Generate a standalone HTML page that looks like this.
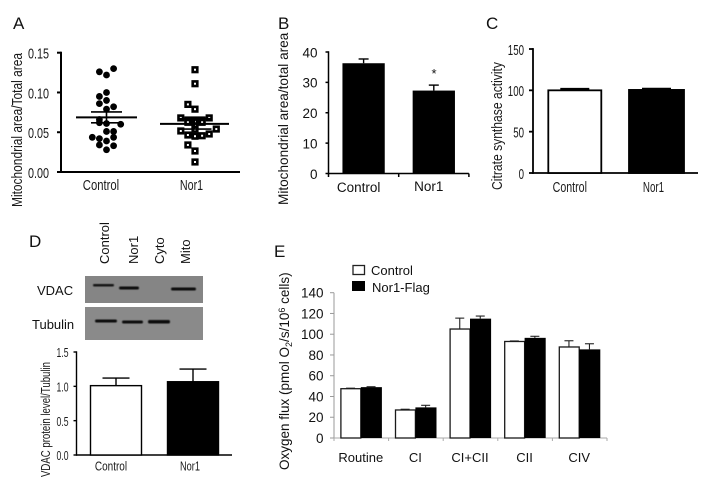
<!DOCTYPE html>
<html>
<head>
<meta charset="utf-8">
<title>Mitochondrial figure panels</title>
<style>
html,body{margin:0;padding:0;background:#fff;}
svg{display:block;}
text{font-family:"Liberation Sans",sans-serif;fill:#111;}
.n{font-family:"Liberation Sans Narrow","Liberation Sans",sans-serif;fill:#1a1a1a;}
</style>
</head>
<body>
<svg id="fig" xmlns="http://www.w3.org/2000/svg" width="705" height="485" viewBox="0 0 705 485">
  <defs><filter id="soft" x="-20%" y="-100%" width="140%" height="300%"><feGaussianBlur stdDeviation="0.6"/></filter></defs>
  <rect width="705" height="485" fill="#fff"/>
  <text x="13" y="29" font-size="17">A</text>
  <text x="278" y="29" font-size="17">B</text>
  <text x="486" y="29" font-size="17">C</text>
  <text x="29" y="247" font-size="17">D</text>
  <text x="274" y="257" font-size="17">E</text>

  <text class="n" transform="translate(22,207) rotate(-90)" font-size="15" textLength="154" lengthAdjust="spacingAndGlyphs">Mitochondrial area/Total area</text>
  <text transform="translate(288,205) rotate(-90)" font-size="13.6">Mitochondrial area/total area</text>
  <text x="434" y="78" font-size="13" text-anchor="middle">*</text>
  <text class="n" transform="translate(502,190) rotate(-90)" font-size="15" textLength="128" lengthAdjust="spacingAndGlyphs">Citrate synthase activity</text>
  <text class="n" transform="translate(50,477) rotate(-90)" font-size="13" textLength="115" lengthAdjust="spacingAndGlyphs">VDAC protein level/Tubulin</text>
  <text transform="translate(289,470) rotate(-90)" font-size="13.5">Oxygen flux (pmol O<tspan font-size="9" dy="3">2</tspan><tspan dy="-3">/s/10</tspan><tspan font-size="9" dy="-4">6</tspan><tspan dy="4"> cells)</tspan></text>

  <g>
    <text transform="translate(109,264) rotate(-90)" font-size="13">Control</text>
    <text transform="translate(138,264) rotate(-90)" font-size="13">Nor1</text>
    <text transform="translate(164,264) rotate(-90)" font-size="13">Cyto</text>
    <text transform="translate(190,264) rotate(-90)" font-size="13">Mito</text>
    <text x="37" y="295" font-size="13">VDAC</text>
    <text x="32" y="329" font-size="13">Tubulin</text>
    <rect x="85" y="276" width="118" height="27" fill="#858585"/>
    <rect x="85" y="307" width="118" height="33" fill="#8a8a8a"/>
    <rect x="93" y="284" width="21" height="2.5" rx="1.2" fill="#161616" filter="url(#soft)"/>
    <rect x="119" y="286.5" width="20" height="3" rx="1.5" fill="#111" filter="url(#soft)"/>
    <rect x="171" y="287.5" width="25" height="3" rx="1.5" fill="#111" filter="url(#soft)"/>
    <rect x="95" y="319.5" width="22" height="3" rx="1.5" fill="#111" filter="url(#soft)"/>
    <rect x="122" y="320.5" width="21" height="3" rx="1.5" fill="#111" filter="url(#soft)"/>
    <rect x="148" y="320" width="22" height="3.5" rx="1.5" fill="#0c0c0c" filter="url(#soft)"/>
  </g>

  <g>
    <rect x="353" y="265.5" width="11.5" height="9" fill="#fff" stroke="#222" stroke-width="1.3"/>
    <text x="371" y="275" font-size="13">Control</text>
    <rect x="352" y="281" width="13" height="10" fill="#000"/>
    <text x="372" y="292" font-size="13">Nor1-Flag</text>
  </g>
</svg>
<script>
// Panel A
const aTicks = [0, 0.05, 0.10, 0.15];
const aCategories = ['Control', 'Nor1'];
const aControlValues = [0.126, 0.122, 0.130, 0.095, 0.100, 0.086, 0.090, 0.082, 0.079, 0.066, 0.062, 0.061, 0.060, 0.051, 0.051, 0.0436, 0.042, 0.039, 0.0436, 0.034, 0.033, 0.028];
const aControlSlots = [-1, 0, 1, -1, 0, -1, 0, 1, 0, -1, -1, 0, 2, 0, 1, -2, -1, 0, 1, -1, 1, 0];
const aNor1Values = [0.1286, 0.111, 0.085, 0.079, 0.068, 0.0654, 0.0654, 0.0654, 0.068, 0.063, 0.0625, 0.0625, 0.058, 0.0516, 0.0465, 0.045, 0.0456, 0.0478, 0.054, 0.0537, 0.034, 0.0264, 0.0126];
const aNor1Slots = [0, 0, -1, 0, -2, -1, 0, 1, 2, 0, -1, 1, 0, -2, -1, 0, 1, 2, 3, 0, -1, 0, 0];
const aMeans = [0.0687, 0.0605];
const aErrors = [0.0068, 0.0065];
// Panel B
const bTicks = [0, 10, 20, 30, 40];
const bCategories = ['Control', 'Nor1'];
const bValues = [36.3, 27.3];
const bErrors = [1.4, 1.8];
// Panel C
const cTicks = [0, 50, 100, 150];
const cCategories = ['Control', 'Nor1'];
const cValues = [100, 100.5];
const cErrors = [2, 1.6];
// Panel D
const dTicks = ['0.0', '0.5', '1.0', '1.5'];
const dCategories = ['Control', 'Nor1'];
const dValues = [1.01, 1.067];
const dErrors = [0.11, 0.185];
// Panel E
const eTicks = [0, 20, 40, 60, 80, 100, 120, 140];
const eCategories = ['Routine', 'CI', 'CI+CII', 'CII', 'CIV'];
const eControl = [47.5, 27, 105, 93, 87.7];
const eControlErr = [0.5, 0.7, 10.5, 0.5, 6];
const eFlag = [49, 29.5, 115, 96.5, 85.4];
const eFlagErr = [0.4, 2, 2.5, 1.5, 5.4];

const svg = document.getElementById('fig');
const NS = 'http://www.w3.org/2000/svg';
function mk(tag, attrs, name) {
  const el = document.createElementNS(NS, tag);
  for (const k in attrs) el.setAttribute(k, attrs[k]);
  
  
  svg.appendChild(el);
  return el;
}
function line(x1, y1, x2, y2, color, w, name) {
  return mk('line', {x1, y1, x2, y2, stroke: color, 'stroke-width': w}, name);
}
function label(str, x, y, size, anchor, cls, perChar, name) {
  const attrs = {x, y, 'font-size': size, 'text-anchor': anchor};
  if (cls) attrs['class'] = cls;
  if (perChar) { attrs.textLength = (String(str).length * perChar).toFixed(1); attrs.lengthAdjust = 'spacingAndGlyphs'; }
  const t = mk('text', attrs, name);
  t.textContent = str;
  return t;
}
function linear(d0, d1, r0, r1) {
  return v => r0 + (v - d0) / (d1 - d0) * (r1 - r0);
}
function yAxis(ticks, scale, x, color, w, tickLen, gap, size, cls, perChar, prefix) {
  const vals = ticks.map(Number);
  line(x, scale(vals[0]) + w / 2, x, scale(vals[vals.length - 1]) - w / 2, color, w, prefix + '-y-axis');
  ticks.forEach(t => {
    const y = scale(Number(t));
    line(x - tickLen, y, x, y, color, w, prefix + '-y-tick');
    label(t, x - tickLen - gap, y + size * 0.36 + 0.5, size, 'end', cls, perChar, prefix + '-y-tick-label');
  });
}
function errorBar(cx, top, base, capHalf, color, w, name) {
  line(cx, base, cx, top, color, w, name + '-stem');
  line(cx - capHalf, top, cx + capHalf, top, color, w, name + '-cap');
}

// ---- Panel A
(function () {
  const y = linear(0, 0.15, 172, 52.7);
  const xc = [106.5, 195];
  const slot = 7.1;
  yAxis(aTicks.map(v => v.toFixed(2)), y, 61, '#000', 2, 4, 8, 15, 'n', 5.25, 'a');
  line(60, 172, 240, 172, '#000', 2, 'a-x-axis');
  aCategories.forEach((c, i) => label(c, xc[i] - (i ? 3.5 : 5.5), 190, 15, 'middle', 'n', c === 'Nor1' ? 5.8 : 5.2, 'a-x-label'));
  aControlValues.forEach((v, i) => {
    mk('circle', {cx: xc[0] + aControlSlots[i] * slot, cy: y(v), r: 3.4, fill: '#000'}, 'a-control-point');
  });
  aNor1Values.forEach((v, i) => {
    mk('rect', {x: xc[1] + aNor1Slots[i] * slot - 2.3, y: y(v) - 2.3, width: 4.6, height: 4.6, fill: '#fff', stroke: '#000', 'stroke-width': 2.6}, 'a-nor1-point');
  });
  const meanHalf = [30.5, 34.5];
  const capHalf = [15.5, 17];
  aMeans.forEach((m, i) => {
    const cx = xc[i] + (i === 0 ? 0 : -0.5);
    line(cx - meanHalf[i], y(m), cx + meanHalf[i], y(m), '#000', 2, 'a-mean-line');
    line(cx - capHalf[i], y(m + aErrors[i]), cx + capHalf[i], y(m + aErrors[i]), '#000', 1.6, 'a-error-cap-upper');
    line(cx - capHalf[i], y(m - aErrors[i]), cx + capHalf[i], y(m - aErrors[i]), '#000', 1.6, 'a-error-cap-lower');
    line(cx, y(m + aErrors[i]), cx, y(m - aErrors[i]), '#000', 1.6, 'a-error-stem');
  });
})();

// ---- Panel B
(function () {
  const y = linear(0, 40, 173.5, 52);
  const x0 = 328.5, band = 70.2, barW = 42.3;
  yAxis(bTicks, y, x0, '#000', 1.5, 3, 8, 13.5, '', 0, 'b');
  line(x0, 173.5, x0 + band * 2, 173.5, '#000', 1.5, 'b-x-axis');
  [0, 1, 2].forEach(i => line(x0 + band * i, 173.5, x0 + band * i, 177, '#000', 1.5, 'b-x-tick'));
  bCategories.forEach((c, i) => {
    const cx = x0 + band * (i + 0.5);
    errorBar(cx, y(bValues[i] + bErrors[i]), y(bValues[i]), 5, '#000', 1.4, 'b-error-' + c.toLowerCase());
    mk('rect', {x: cx - barW / 2, y: y(bValues[i]), width: barW, height: y(0) - y(bValues[i]), fill: '#000'}, 'b-bar-' + c.toLowerCase());
    label(c, cx - 5, i === 0 ? 192 : 191, 13.5, 'middle', '', 0, 'b-x-label');
  });
})();

// ---- Panel C
(function () {
  const y = linear(0, 150, 173, 49);
  const xc = [574.8, 656.5], barW = [53, 55];
  yAxis(cTicks, y, 533, '#000', 1.8, 4, 5, 15, 'n', 5.4, 'c');
  line(532, 173, 698, 173, '#000', 1.8, 'c-x-axis');
  cCategories.forEach((c, i) => {
    errorBar(xc[i], y(cValues[i] + cErrors[i]), y(cValues[i]), 14.5, '#000', 1.6, 'c-error-' + c.toLowerCase());
    mk('rect', {x: xc[i] - barW[i] / 2, y: y(cValues[i]), width: barW[i], height: y(0) - y(cValues[i]), fill: i ? '#000' : '#fff', stroke: '#000', 'stroke-width': 1.8}, 'c-bar-' + c.toLowerCase());
    label(c, xc[i] - (i ? 3 : 5), 192, 15, 'middle', 'n', c === 'Nor1' ? 5.3 : 4.9, 'c-x-label');
  });
})();

// ---- Panel D
(function () {
  const y = linear(0, 1.5, 455, 352);
  const xc = [116, 193], barW = 51;
  yAxis(dTicks, y, 76.5, '#000', 1.4, 3, 5, 13, 'n', 4, 'd');
  line(76, 455, 232, 455, '#000', 1.4, 'd-x-axis');
  dCategories.forEach((c, i) => {
    errorBar(xc[i], y(dValues[i] + dErrors[i]), y(dValues[i]), 13.5, '#000', 1.4, 'd-error-' + c.toLowerCase());
    mk('rect', {x: xc[i] - barW / 2, y: y(dValues[i]), width: barW, height: y(0) - y(dValues[i]), fill: i ? '#000' : '#fff', stroke: '#000', 'stroke-width': 1.4}, 'd-bar-' + c.toLowerCase());
    label(c, xc[i] - (i ? 3 : 5), 470.5, 13, 'middle', 'n', c === 'Nor1' ? 5 : 4.6, 'd-x-label');
  });
})();

// ---- Panel E
(function () {
  const y = linear(0, 140, 438, 292.7);
  const x0 = 334, band = 54.6, barW = 20.5;
  eTicks.forEach(t => {
    line(330, y(t), 334, y(t), '#999', 1, 'e-y-tick');
    label(t, 323.5, y(t) + 5, 13.5, 'end', '', 0, 'e-y-tick-label');
  });
  line(x0, 292.7, x0, 438, '#999', 1, 'e-y-axis');
  line(x0, 438, x0 + band * 5, 438, '#aaa', 1, 'e-x-axis');
  for (let i = 0; i <= 5; i++) line(x0 + band * i, 438, x0 + band * i, 441, '#aaa', 1, 'e-x-tick');
  eCategories.forEach((c, i) => {
    const cx = x0 + band * (i + 0.5) - 0.5;
    const a = y(eControl[i]), b = y(eFlag[i]);
    errorBar(cx - barW / 2, y(eControl[i] + eControlErr[i]), a, 4.5, '#222', 1.1, 'e-control-error');
    errorBar(cx + barW / 2, y(eFlag[i] + eFlagErr[i]), b, 4.5, '#222', 1.1, 'e-flag-error');
    mk('rect', {x: cx - barW + 0.6, y: a, width: barW - 0.6, height: y(0) - a, fill: '#fff', stroke: '#1a1a1a', 'stroke-width': 1.3}, 'e-control-bar');
    mk('rect', {x: cx, y: b, width: barW + 0.6, height: y(0) - b, fill: '#000'}, 'e-flag-bar');
    label(c, cx, 462, 13, 'middle', '', 0, 'e-x-label');
  });
})();
</script>
</body>
</html>
